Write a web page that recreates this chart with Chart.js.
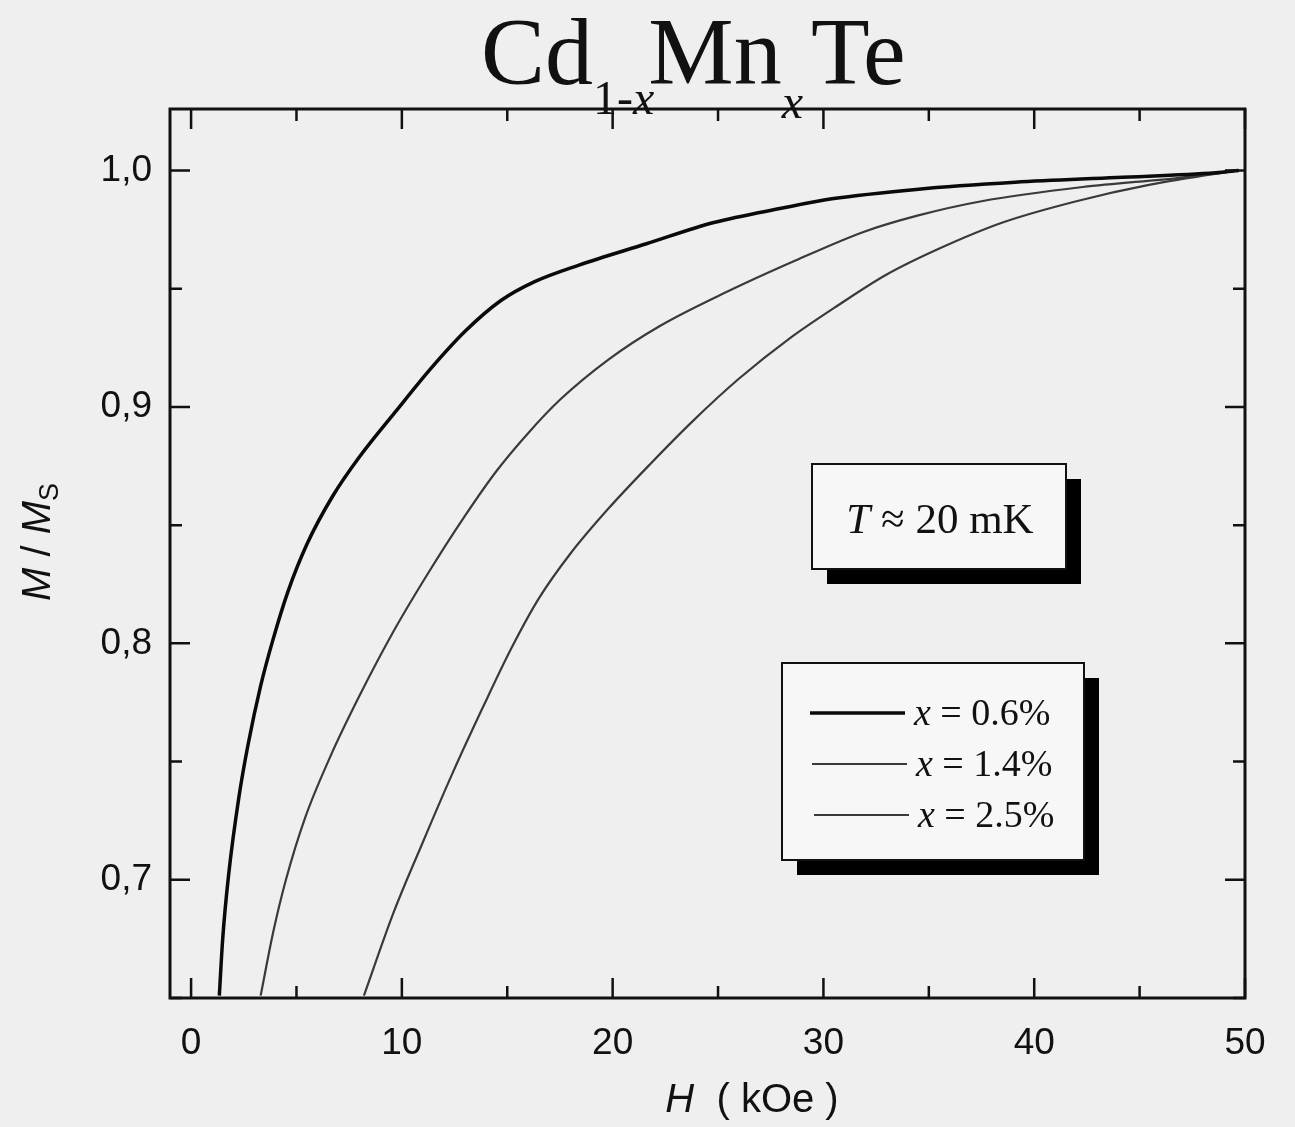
<!DOCTYPE html>
<html>
<head>
<meta charset="utf-8">
<script src="https://cdn.jsdelivr.net/npm/chart.js@4.4.1/dist/chart.umd.min.js"></script>
<style>
  html, body { margin: 0; background: #efefef; }
</style>
</head>
<body>
<canvas id="chart" width="1295" height="1127"></canvas>
<script>
// H in kOe, M/Ms
const h06 = [1.34, 1.5, 1.78, 2.27, 2.7, 3.3, 3.9, 4.6, 5.5, 6.7, 8.0, 9.7, 11.35, 13.0, 14.7, 16.3, 18.4, 21.6, 24.8, 28.0, 30.4, 34.4, 39.1, 43.9, 48.6, 49.7];
const m06 = [0.651, 0.675, 0.702, 0.735, 0.757, 0.782, 0.802, 0.822, 0.842, 0.862, 0.879, 0.898, 0.916, 0.932, 0.945, 0.953, 0.960, 0.969, 0.978, 0.984, 0.988, 0.992, 0.995, 0.997, 0.999, 1.0];

const h14 = [3.3, 3.9, 4.5, 5.4, 6.6, 8.0, 9.6, 11.2, 13.0, 14.5, 16.0, 17.5, 19.8, 22.2, 25.5, 28.7, 31.9, 34.5, 37.5, 42.3, 47.0, 49.7];
const m14 = [0.651, 0.678, 0.700, 0.726, 0.752, 0.778, 0.805, 0.829, 0.854, 0.873, 0.889, 0.903, 0.920, 0.934, 0.949, 0.962, 0.974, 0.981, 0.987, 0.993, 0.997, 1.0];

const h25 = [8.2, 9.6, 11.0, 12.4, 13.9, 15.2, 16.5, 18.0, 19.8, 21.8, 23.8, 26.0, 28.4, 30.7, 33.0, 35.5, 38.5, 42.0, 45.5, 48.9, 49.7];
const m25 = [0.651, 0.686, 0.716, 0.745, 0.774, 0.798, 0.819, 0.838, 0.857, 0.876, 0.894, 0.912, 0.929, 0.943, 0.956, 0.967, 0.978, 0.987, 0.994, 0.999, 1.0];

const dopings = ['0.6%', '1.4%', '2.5%'];
const xTickValues = [0, 5, 10, 15, 20, 25, 30, 35, 40, 45, 50];
const yTickValues = [0.65, 0.7, 0.75, 0.8, 0.85, 0.9, 0.95, 1.0];

const toPoints = (hs, ms) => hs.map((h, i) => ({ x: h, y: ms[i] }));

const serif = '"Liberation Serif", "Times New Roman", serif';
const sans = '"Liberation Sans", Arial, sans-serif';
const ink = '#111';

// draw a row of text pieces with different fonts / offsets
function drawRuns(ctx, runs, x, y) {
  let cx = x;
  runs.forEach(r => {
    ctx.font = r.font;
    ctx.fillText(r.text, cx, y + (r.dy || 0));
    cx += ctx.measureText(r.text).width + (r.gap || 0);
  });
  return cx;
}
function runsWidth(ctx, runs) {
  return runs.reduce((w, r) => { ctx.font = r.font; return w + ctx.measureText(r.text).width + (r.gap || 0); }, 0);
}

function shadowBox(ctx, x, y, w, h, off) {
  ctx.fillStyle = '#000';
  ctx.fillRect(x + off, y + off, w, h);
  ctx.fillStyle = '#f7f7f7';
  ctx.fillRect(x, y, w, h);
  ctx.strokeStyle = ink;
  ctx.lineWidth = 2;
  ctx.strokeRect(x, y, w, h);
}

const decorations = {
  id: 'decorations',
  afterDraw(chart) {
    const { ctx, chartArea: a, scales: { x, y } } = chart;
    ctx.save();

    // frame + inward ticks on all four sides
    ctx.strokeStyle = ink;
    ctx.lineWidth = 3;
    ctx.strokeRect(a.left, a.top, a.right - a.left, a.bottom - a.top);
    ctx.lineWidth = 2.5;
    ctx.beginPath();
    xTickValues.forEach(v => {
      const px = x.getPixelForValue(v);
      const len = v % 10 === 0 ? 20 : 12;
      ctx.moveTo(px, a.bottom); ctx.lineTo(px, a.bottom - len);
      ctx.moveTo(px, a.top); ctx.lineTo(px, a.top + len);
    });
    yTickValues.forEach(v => {
      const py = y.getPixelForValue(v);
      const len = Math.round(v * 100) % 10 === 0 ? 20 : 12;
      ctx.moveTo(a.left, py); ctx.lineTo(a.left + len, py);
      ctx.moveTo(a.right, py); ctx.lineTo(a.right - len, py);
    });
    ctx.stroke();

    ctx.fillStyle = ink;
    ctx.textBaseline = 'alphabetic';

    // title Cd(1-x)Mn(x)Te
    drawRuns(ctx, [
      { text: 'Cd', font: `96px ${serif}` },
      { text: '1-', font: `48px ${serif}`, dy: 30 },
      { text: 'x', font: `italic 48px ${serif}`, dy: 30, gap: -6 },
      { text: 'Mn', font: `96px ${serif}` },
      { text: 'x', font: `italic 48px ${serif}`, dy: 34, gap: 8 },
      { text: 'Te', font: `96px ${serif}` }
    ], 481, 84);

    // x axis title
    const xt = [
      { text: 'H', font: `italic 40px ${sans}` },
      { text: '  ( kOe )', font: `40px ${sans}` }
    ];
    drawRuns(ctx, xt, 752 - runsWidth(ctx, xt) / 2, 1112);

    // y axis title, rotated
    const yt = [
      { text: 'M', font: `italic 40px ${sans}` },
      { text: ' / ', font: `40px ${sans}` },
      { text: 'M', font: `italic 40px ${sans}` },
      { text: 'S', font: `27px ${sans}`, dy: 8 }
    ];
    ctx.save();
    ctx.translate(50, 542);
    ctx.rotate(-Math.PI / 2);
    drawRuns(ctx, yt, -runsWidth(ctx, yt) / 2, 0);
    ctx.restore();

    // temperature box
    shadowBox(ctx, 812, 464, 254, 105, 15);
    ctx.fillStyle = ink;
    const tt = [
      { text: 'T', font: `italic 43px ${serif}` },
      { text: ' ≈ 20 mK', font: `43px ${serif}` }
    ];
    drawRuns(ctx, tt, 940 - runsWidth(ctx, tt) / 2, 533);

    // legend box
    shadowBox(ctx, 782, 663, 302, 197, 15);
    chart.data.datasets.forEach((ds, i) => {
      const ly = 713 + i * 51;
      ctx.strokeStyle = ds.borderColor;
      ctx.lineWidth = ds.borderWidth;
      ctx.beginPath();
      ctx.moveTo(810 + i * 2, ly);
      ctx.lineTo(905 + i * 2, ly);
      ctx.stroke();
      ctx.fillStyle = ink;
      drawRuns(ctx, [
        { text: 'x', font: `italic 38px ${serif}` },
        { text: ' = ' + dopings[i], font: `38px ${serif}` }
      ], 914 + i * 2, ly + 12);
    });

    ctx.restore();
  }
};

new Chart(document.getElementById('chart'), {
  type: 'line',
  data: {
    datasets: [
      { label: 'x = ' + dopings[0], data: toPoints(h06, m06), borderColor: '#0a0a0a', borderWidth: 3.5 },
      { label: 'x = ' + dopings[1], data: toPoints(h14, m14), borderColor: '#3a3a3a', borderWidth: 2.2 },
      { label: 'x = ' + dopings[2], data: toPoints(h25, m25), borderColor: '#3a3a3a', borderWidth: 2.2 }
    ]
  },
  options: {
    responsive: false,
    animation: false,
    parsing: false,
    layout: { padding: { top: 109, right: 50, left: 0, bottom: 0 } },
    elements: {
      point: { radius: 0 },
      line: { cubicInterpolationMode: 'monotone', fill: false }
    },
    plugins: { legend: { display: false }, tooltip: { enabled: false } },
    scales: {
      x: {
        type: 'linear',
        min: -1,
        max: 50,
        afterFit: s => { s.height = 129; },
        afterBuildTicks: s => { s.ticks = xTickValues.map(v => ({ value: v })); },
        grid: { display: false, drawTicks: false },
        border: { display: false },
        ticks: {
          padding: 24,
          color: ink,
          font: { family: sans, size: 37 },
          autoSkip: false,
          maxRotation: 0,
          callback: v => (v % 10 === 0 ? String(v) : '')
        }
      },
      y: {
        type: 'linear',
        min: 0.65,
        max: 1.026,
        afterFit: s => { s.width = 170; },
        afterBuildTicks: s => { s.ticks = yTickValues.map(v => ({ value: v })); },
        grid: { display: false, drawTicks: false },
        border: { display: false },
        ticks: {
          padding: 18,
          color: ink,
          font: { family: sans, size: 37 },
          autoSkip: false,
          callback: v => (Math.round(v * 100) % 10 === 0 ? v.toFixed(1).replace('.', ',') : '')
        }
      }
    }
  },
  plugins: [decorations]
});
</script>
</body>
</html>
